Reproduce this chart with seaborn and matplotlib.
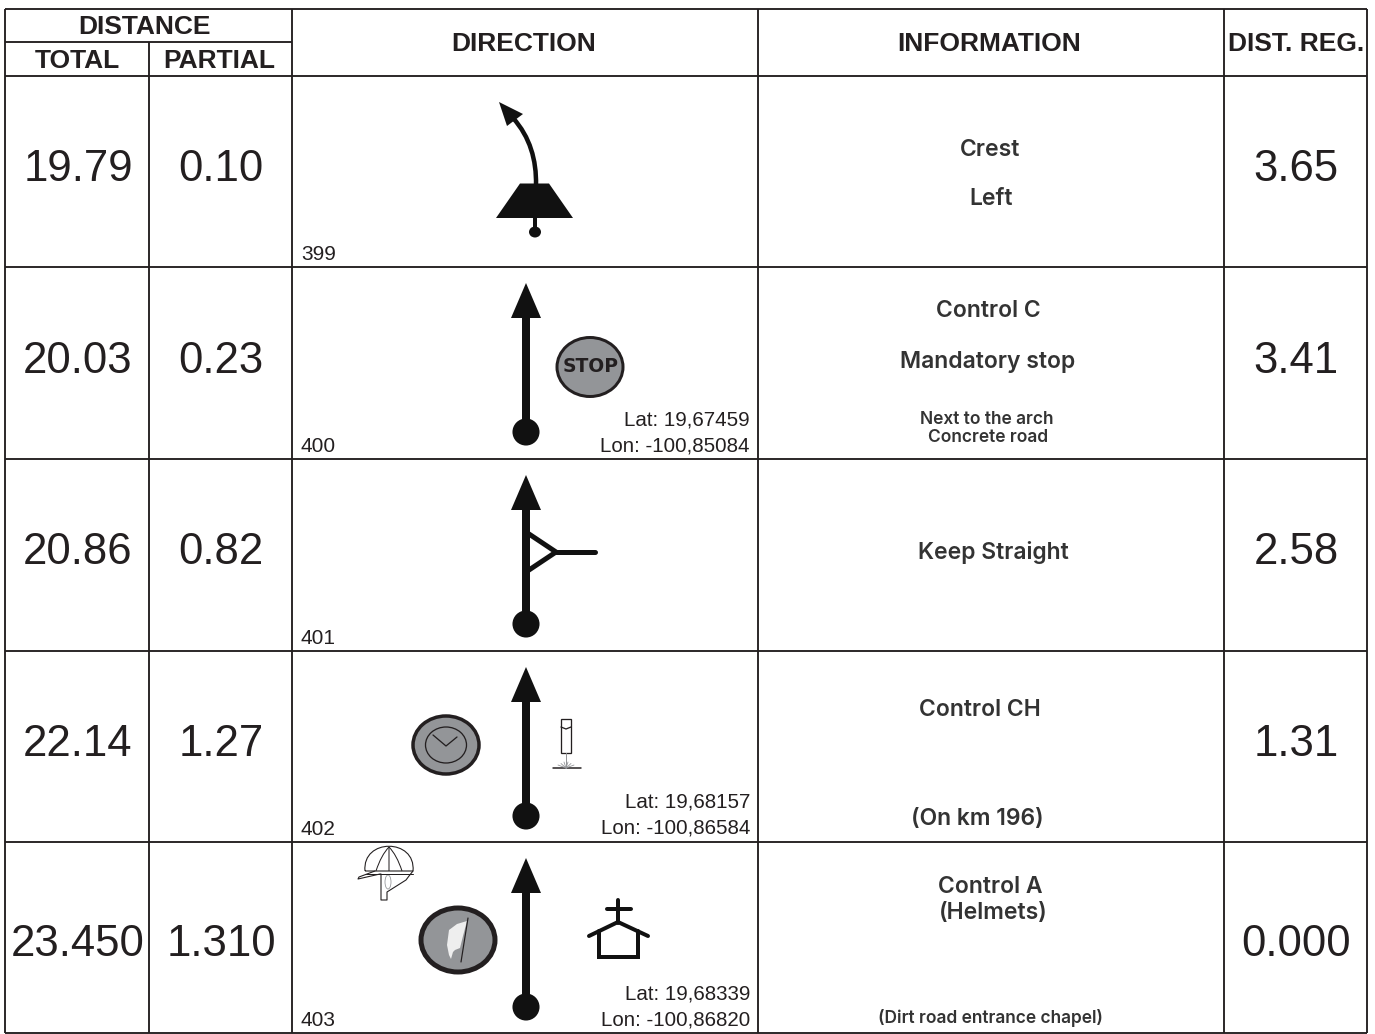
import numpy as np
import pandas as pd
import matplotlib
matplotlib.use("Agg")
import matplotlib.pyplot as plt
from matplotlib.patches import Ellipse, Polygon
from matplotlib.path import Path
from matplotlib.patches import PathPatch
import seaborn as sns

# ---- data ----
total = ["19.79", "20.03", "20.86", "22.14", "23.450"]
partial = ["0.10", "0.23", "0.82", "1.27", "1.310"]
dist_reg = ["3.65", "3.41", "2.58", "1.31", "0.000"]
box_ids = ["399", "400", "401", "402", "403"]
lat = [None, "19,67459", None, "19,68157", "19,68339"]
lon = [None, "-100,85084", None, "-100,86584", "-100,86820"]
info_main = ["Crest", "Left", "Control C", "Mandatory stop", "Keep Straight",
             "Control CH", "(On km 196)", "Control A", "(Helmets)"]
info_small = ["Next to the arch", "Concrete road", "(Dirt road entrance chapel)"]

# ---- layout (pixels) ----
W, H = 1375, 1034
INK = "#231f20"
GRAY = "#939598"
sns.set_theme(style="white", rc={"figure.facecolor": "white", "axes.facecolor": "white"})
plt.rcParams["font.family"] = ["Liberation Sans", "DejaVu Sans"]
fig = plt.figure(figsize=(W / 100, H / 100), dpi=100)
ax = fig.add_axes([0, 0, 1, 1])
ax.set_xlim(0, W)
ax.set_ylim(H, 0)
ax.axis("off")
PX = 0.72  # points per pixel

col_x = [5, 149, 292, 758, 1224, 1367]
row_y = [76, 267, 459, 651, 842, 1033]
LW = 1.6 * PX + .2
ax.hlines([9], col_x[0], col_x[-1], color=INK, lw=LW)
ax.hlines([42], col_x[0], col_x[2], color=INK, lw=LW)
ax.hlines(row_y, col_x[0], col_x[-1], color=INK, lw=LW)
ax.vlines([col_x[0], col_x[2], col_x[3], col_x[4], col_x[5]], 9, row_y[-1], color=INK, lw=LW)
ax.vlines([col_x[1]], 42, row_y[-1], color=INK, lw=LW)

# headers
hdr = dict(ha="center", va="center", color=INK, fontweight="bold", fontsize=19)
ax.text(145, 27, "DISTANCE", **hdr)
ax.text(77, 61, "TOTAL", **hdr)
ax.text(219, 61, "PARTIAL", **hdr)
ax.text(524, 44, "DIRECTION", **hdr)
ax.text(989, 44, "INFORMATION", **hdr)
ax.text(1296, 44, "DIST. REG.", **hdr)

# big numbers
num_base = [181, 373, 564, 756, 956]
big = dict(ha="center", va="baseline", color=INK, fontsize=31.5)
for y, a, b, c in zip(num_base, total, partial, dist_reg):
    ax.text(78, y, a, **big)
    ax.text(221, y, b, **big)
    ax.text(1296, y, c, **big)

# ids and coordinates
for y, i, la, lo in zip(row_y[1:], box_ids, lat, lon):
    ax.text(301, y - 7, i, ha="left", va="baseline", fontsize=15, color=INK)
    if la:
        ax.text(750, y - 34, "Lat: " + la, ha="right", va="baseline", fontsize=14.8, color=INK)
        ax.text(750, y - 8, "Lon: " + lo, ha="right", va="baseline", fontsize=14.8, color=INK)

# information
main_pos = [(990, 150), (991, 199), (988, 311), (988, 362), (993, 552),
            (980, 710), (977, 819), (990, 887), (993, 913)]
for (x, y), t in zip(main_pos, info_main):
    ax.text(x, y, t, ha="center", va="center", fontsize=16.5, color="#333333",
            family=["Inter", "DejaVu Sans"], fontweight="semibold")
small_pos = [(987, 420), (988, 438), (991, 1018)]
for (x, y), t in zip(small_pos, info_small):
    ax.text(x, y, t, ha="center", va="center", fontsize=12.5, color="#333333",
            family=["Inter", "DejaVu Sans"], fontweight="semibold")

# straight arrows
tips = [283, 475, 667, 858]
stem_x = 526
stems = pd.DataFrame({
    "x": [stem_x] * 8,
    "y": [v for t in tips for v in (t + 30, t + 149)],
    "row": [k for k in box_ids[1:] for _ in (0, 1)],
})
sns.lineplot(data=stems, x="x", y="y", units="row", estimator=None, color="#111111",
             lw=8 * PX, ax=ax, legend=False, sort=False, solid_capstyle="butt")
dots = pd.DataFrame({"x": [stem_x] * 4, "y": [t + 149 for t in tips]})
sns.scatterplot(data=dots, x="x", y="y", s=380, color="#111111", edgecolor="none", ax=ax, legend=False)
for t in tips:
    ax.add_patch(Polygon([(stem_x, t), (stem_x + 15, t + 35), (stem_x - 15, t + 35)],
                         closed=True, fc="#111111", ec="none"))
ax.set_xlim(0, W)
ax.set_ylim(H, 0)
ax.set_xlabel("")
ax.set_ylabel("")

# row 1: crest and curved arrow
ax.add_patch(Polygon([(520, 183.5), (549, 183.5), (573, 218), (496, 218)], fc="#111111", ec="none"))
ax.plot([535, 535], [218, 232], color="#111111", lw=4 * PX)
ax.add_patch(Ellipse((535, 232), 12, 11, fc="#111111", ec="none"))
curve = Path([(536, 185), (536.5, 160), (530, 137), (513, 118)],
             [Path.MOVETO, Path.CURVE4, Path.CURVE4, Path.CURVE4])
ax.add_patch(PathPatch(curve, fc="none", ec="#111111", lw=4.5 * PX))
ax.add_patch(Polygon([(499, 102), (523, 114), (507, 126)], fc="#111111", ec="none"))

# row 2: stop
ax.add_patch(Ellipse((590, 367), 66, 59, fc=GRAY, ec=INK, lw=3 * PX))
ax.text(591, 367, "STOP", ha="center", va="center", fontsize=13.5, fontweight="bold", color=INK,
        family=["DejaVu Sans"])

# row 3: junction
fork = [(526, 532), (556, 552), (526, 572)]
ax.plot(*zip(*fork), color="#111111", lw=5 * PX)
ax.plot([556, 595], [552, 552], color="#111111", lw=5 * PX)

# row 4: clock and pylon
ax.add_patch(Ellipse((446, 745), 66, 58, fc=GRAY, ec=INK, lw=3.5 * PX))
ax.add_patch(Ellipse((446, 745), 41, 36, fc="none", ec=INK, lw=1.3 * PX))
ax.plot([433, 446, 457], [735, 746, 737], color=INK, lw=1.3 * PX)
ax.add_patch(Polygon([(561, 719), (571, 719), (571, 753), (561, 753)], fc="white", ec=INK, lw=1.3 * PX))
ax.plot([561, 566, 571], [727, 729, 727], color=INK, lw=1.3 * PX)
ax.plot([553, 581], [768, 768], color=INK, lw=1.5 * PX)
ax.plot([566, 566], [753, 768], color=GRAY, lw=1 * PX)
for dx in (-8, -5, -2, 2, 5, 8):
    ax.plot([566, 566 + dx], [768, 768 - 7 + abs(dx) * .5], color=GRAY, lw=.8 * PX)

# row 5: flag
ax.add_patch(Ellipse((458, 940), 74, 64, fc=GRAY, ec=INK, lw=5 * PX))
leaf = Path([(467, 921), (457, 924), (449, 930), (447, 945), (448, 950), (449, 955), (451, 959),
             (453, 952), (455, 950), (460, 948), (463, 936)],
            [Path.MOVETO, Path.LINETO, Path.LINETO, Path.LINETO, Path.LINETO, Path.LINETO, Path.LINETO,
             Path.LINETO, Path.LINETO, Path.LINETO, Path.LINETO])
ax.add_patch(PathPatch(leaf, fc="#eeeeee", ec="none"))
ax.plot([468, 461], [918, 962], color=INK, lw=1.2 * PX)

# row 5: chapel
for xs, ys in [([618, 618], [900, 923]), ([607, 631], [909, 909]),
               ([589, 618, 648], [936, 922, 936]), ([599, 599, 638, 638], [931, 957, 957, 931])]:
    ax.plot(xs, ys, color="#111111", lw=4 * PX, solid_capstyle="round", solid_joinstyle="miter")

# row 5: helmet
dome = Path([(365, 871), (362, 838), (416, 838), (413, 871), (365, 871)],
            [Path.MOVETO, Path.CURVE4, Path.CURVE4, Path.CURVE4, Path.LINETO])
ax.add_patch(PathPatch(dome, fc="white", ec=INK, lw=1.1 * PX))
for cx in (376, 389, 402):
    rib = Path([(cx, 871), (cx + (389 - cx) * 0.4, 855), (389, 847)], [Path.MOVETO, Path.CURVE3, Path.CURVE3])
    ax.add_patch(PathPatch(rib, fc="none", ec=INK, lw=1 * PX))
ax.plot([375, 359, 358, 380, 381, 381, 387, 387, 406, 409, 413],
        [871, 877, 879, 874, 874, 900, 900, 892, 880, 876, 871], color=INK, lw=1.1 * PX)
ax.plot([366, 413], [874, 874], color=INK, lw=1 * PX)
ax.add_patch(Ellipse((388, 882), 6, 14, fc="none", ec=GRAY, lw=.8 * PX))

fig.savefig("out.png", dpi=100, facecolor="white")
